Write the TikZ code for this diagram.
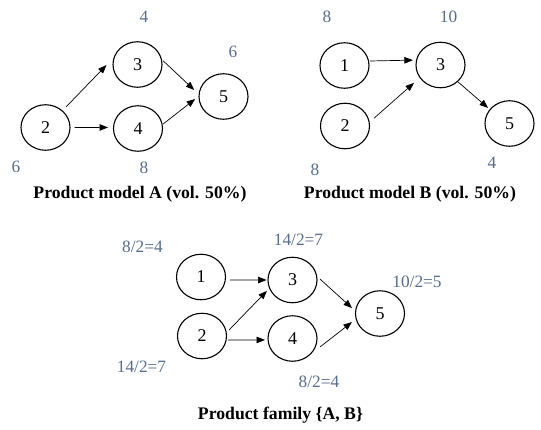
\documentclass[tikz,border=0pt]{standalone}
\usepackage{fontspec}
\setmainfont{Liberation Serif}[Ligatures=TeX]
\usetikzlibrary{shapes.geometric,arrows.meta,calc}
\definecolor{lblcol}{RGB}{88,108,140}
\begin{document}
\begin{tikzpicture}[x=1pt,y=1pt,
  proc/.style={ellipse,draw,line width=1.1pt,minimum width=49pt,minimum height=45.5pt,inner sep=0pt,font=\rmfamily\fontsize{18}{20}\selectfont},
  lbl/.style={text=lblcol,inner sep=0pt,font=\rmfamily\fontsize{17.3}{19}\selectfont},
  captxt/.style={inner sep=0pt,font=\rmfamily\bfseries\fontsize{17.7}{20}\selectfont},
  arr/.style={-{Triangle[length=8.5pt,width=6.5pt]},line width=0.7pt}]
\useasboundingbox (0,0) rectangle (541,-429);
% ---- Product model A
\node[proc] (A2) at (45.5,-127.5) {2};
\node[proc] (A3) at (137.5,-64.5) {3};
\node[proc] (A4) at (138,-128.5) {4};
\node[proc] (A5) at (223.5,-96.5) {5};
\node[lbl] (LA3) at (144,-17) {4};
\node[lbl] (LA5) at (233,-52) {6};
\node[lbl] (LA2) at (16,-167) {6};
\node[lbl] (LA4) at (144,-168) {8};
\node[captxt] (CA) at (140,-194) {Product model A (vol. 50\%)};
\draw[arr] ($(A2)+(45:29)$) -- ($(A3)+(181:31)$);
\draw[arr] ($(A2)+(0:29)$) -- ($(A4)+(178:30)$);
\draw[arr] ($(A3)+(8:26)$) -- ($(A5)+(167.5:30)$);
\draw[arr] ($(A4)+(10:25.5)$) -- ($(A5)+(185:28.5)$);
% ---- Product model B
\node[proc] (B1) at (344.5,-65.5) {1};
\node[proc] (B3) at (440.5,-65) {3};
\node[proc] (B2) at (345,-126) {2};
\node[proc] (B5) at (509.5,-123.5) {5};
\node[lbl] (LB1) at (327,-17) {8};
\node[lbl] (LB3) at (448.5,-17) {10};
\node[lbl] (LB2) at (315,-170) {8};
\node[lbl] (LB5) at (492,-163) {4};
\node[captxt] (CB) at (410,-194) {Product model B (vol. 50\%)};
\draw[arr] ($(B1)+(10:26)$) -- ($(B3)+(170:28)$);
\draw[arr] ($(B2)+(15:30)$) -- ($(B3)+(214:32)$);
\draw[arr] ($(B3)+(-44:24.5)$) -- ($(B5)+(144:26.5)$);
% ---- Product family
\node[proc] (C1) at (201,-277) {1};
\node[proc] (C2) at (202,-336) {2};
\node[proc] (C3) at (292.5,-280) {3};
\node[proc] (C4) at (292.5,-338.5) {4};
\node[proc] (C5) at (380,-313.5) {5};
\node[lbl] (LC1) at (142.5,-247) {8/2=4};
\node[lbl] (LC3) at (298.5,-240) {14/2=7};
\node[lbl] (LC5) at (417,-282) {10/2=5};
\node[lbl] (LC2) at (141.5,-367) {14/2=7};
\node[lbl] (LC4) at (319,-382) {8/2=4};
\node[captxt] (CC) at (280.5,-415) {Product family \{A, B\}};
\draw[arr] ($(C1)+(-6:29.2)$) -- ($(C3)+(180:26)$);
\draw[arr] ($(C2)+(12.5:27.7)$) -- ($(C3)+(203:27.8)$);
\draw[arr] ($(C2)+(-8.7:26.3)$) -- ($(C4)+(183:27.5)$);
\draw[arr] ($(C3)+(2:27.5)$) -- ($(C5)+(169:28.5)$);
\draw[arr] ($(C4)+(-17:28.8)$) -- ($(C5)+(197:29.3)$);
\end{tikzpicture}
\end{document}
